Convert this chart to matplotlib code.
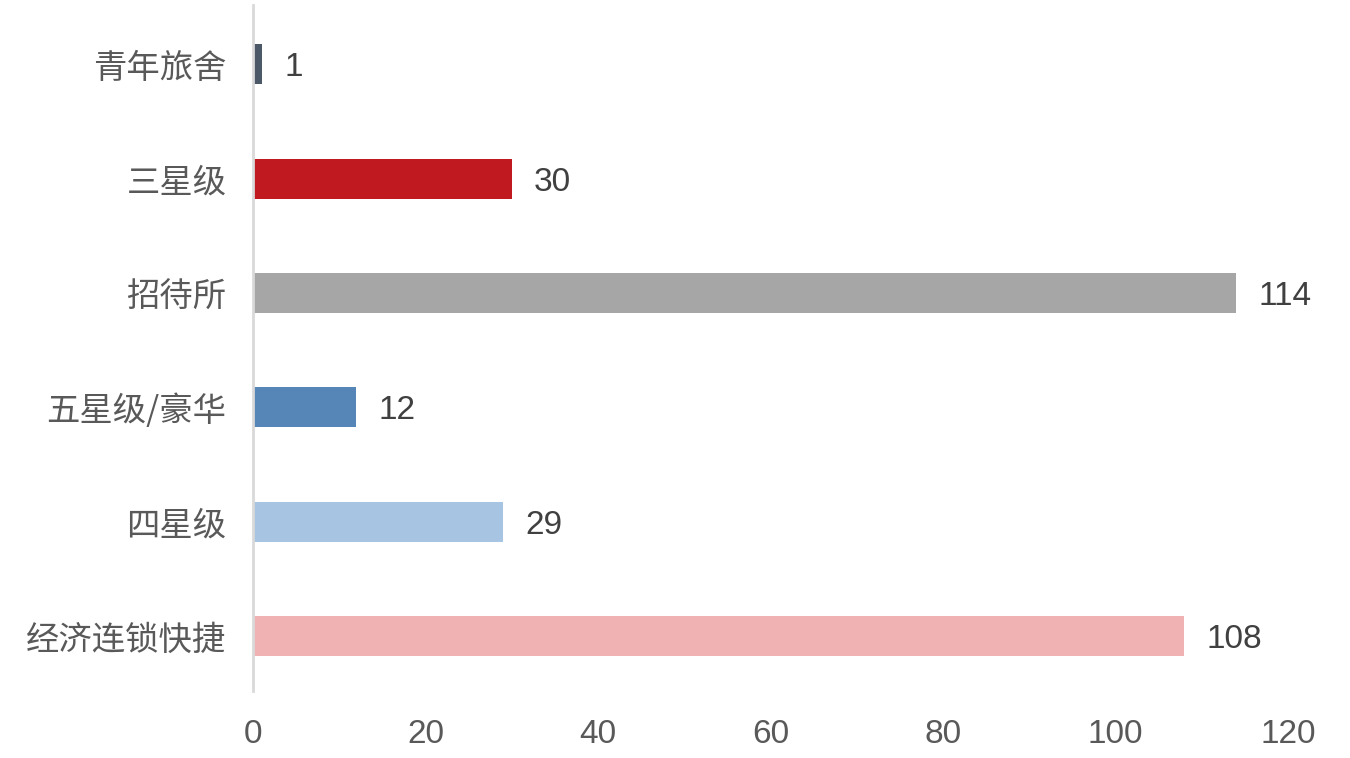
import matplotlib
matplotlib.use("Agg")
import matplotlib.pyplot as plt

categories = ["青年旅舍", "三星级", "招待所", "五星级/豪华", "四星级", "经济连锁快捷"]
values = [1, 30, 114, 12, 29, 108]
colors = ["#4b5868", "#c01a20", "#a6a6a6", "#5686b8", "#a7c4e2", "#f0b2b3"]
xticks = [0, 20, 40, 60, 80, 100, 120]

plt.rcParams['font.family'] = ['Liberation Sans', 'Noto Sans CJK SC', 'DejaVu Sans']

fig = plt.figure(figsize=(13.5, 7.58), dpi=100)
ax = fig.add_axes([0.1874, 0.0884, 0.7666, 0.905])

ypos = list(range(len(categories)))
ax.barh(ypos, values, height=0.35, color=colors)
ax.set_ylim(len(categories) - 0.5 - 0.02, -0.5 - 0.02)
ax.set_xlim(0, 120)
ax.set_yticks(ypos)
ax.set_yticklabels(categories, family=['Noto Sans CJK SC', 'DejaVu Sans'], fontsize=24, color="#595959")
ax.set_xticks(xticks)
ax.set_xticklabels([str(t) for t in xticks], fontsize=24, color="#595959")
ax.tick_params(axis='both', length=0)
ax.tick_params(axis='y', pad=19)
ax.tick_params(axis='x', pad=20)

for s in ['top', 'right', 'bottom']:
    ax.spines[s].set_visible(False)
ax.spines['left'].set_color('#d9d9d9')
ax.spines['left'].set_linewidth(2)

for y, v in zip(ypos, values):
    ax.text(v + 2.6, y, str(v), va='center_baseline', ha='left', fontsize=24, color="#404040")

fig.savefig("out.png", dpi=100)
